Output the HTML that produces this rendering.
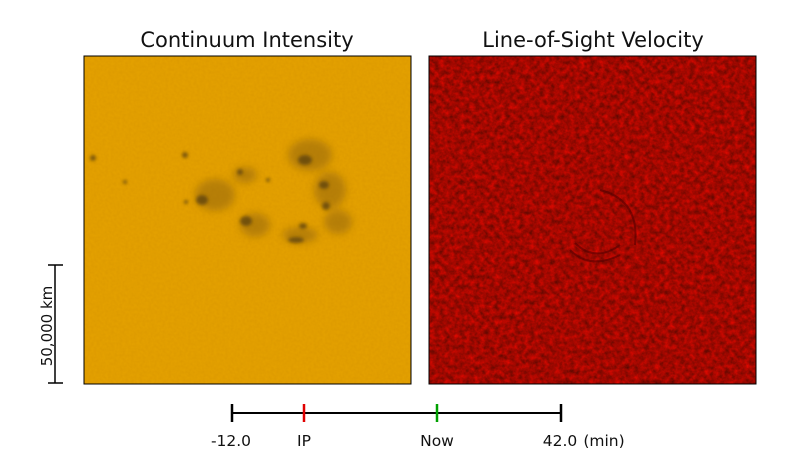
<!DOCTYPE html>
<html><head><style>
body{margin:0;background:#fff;}
svg{display:block;font-family:"DejaVu Sans","Liberation Sans",sans-serif;}
</style></head><body>
<svg width="811" height="474" viewBox="0 0 811 474">
<defs>
<filter id="ny" x="0" y="0" width="100%" height="100%" color-interpolation-filters="sRGB">
<feTurbulence type="fractalNoise" baseFrequency="0.35" numOctaves="2" seed="3" result="n"/>
<feColorMatrix in="n" type="matrix" values="0 0 0 0 0.8  0 0 0 0 0.54  0 0 0 0 0  0.4 0 0 0 -0.1" result="c"/>
<feComposite in="c" in2="SourceGraphic" operator="over"/>
</filter>
<filter id="nr" x="0" y="0" width="100%" height="100%" color-interpolation-filters="sRGB">
<feTurbulence type="fractalNoise" baseFrequency="0.2" numOctaves="3" seed="7" result="n"/>
<feColorMatrix in="n" type="matrix" values="0.6 0 0 0 0.33  0 0 0 0 0.03  0 0 0 0 0.0  0 0 0 0 1" result="c"/>
<feComposite in="c" in2="SourceGraphic" operator="in"/>
</filter>
<filter id="bl"><feGaussianBlur stdDeviation="4"/></filter>
<filter id="bs"><feGaussianBlur stdDeviation="1.5"/></filter>
</defs>
<text x="247" y="47" font-size="21" text-anchor="middle" fill="#111">Continuum Intensity</text>
<text x="593" y="47" font-size="21" text-anchor="middle" fill="#111">Line-of-Sight Velocity</text>
<rect x="84" y="56" width="327" height="328" fill="#e3a000"/>
<rect x="84" y="56" width="327" height="328" fill="#e3a000" filter="url(#ny)"/>
<g fill="#9a6a10" opacity="0.6" filter="url(#bl)">
<ellipse cx="310" cy="155" rx="22" ry="16"/>
<ellipse cx="330" cy="190" rx="16" ry="18"/>
<ellipse cx="338" cy="222" rx="14" ry="12"/>
<ellipse cx="215" cy="195" rx="20" ry="16"/>
<ellipse cx="255" cy="225" rx="15" ry="12"/>
<ellipse cx="300" cy="235" rx="18" ry="8"/>
<ellipse cx="245" cy="175" rx="12" ry="8"/>
</g>
<g fill="#5a4010" opacity="0.75" filter="url(#bs)">
<ellipse cx="305" cy="160" rx="7" ry="5"/>
<ellipse cx="324" cy="185" rx="5" ry="4"/>
<ellipse cx="326" cy="206" rx="4" ry="4"/>
<ellipse cx="202" cy="200" rx="6" ry="5"/>
<ellipse cx="246" cy="221" rx="6" ry="5"/>
<ellipse cx="303" cy="226" rx="4" ry="3"/>
<ellipse cx="296" cy="240" rx="8" ry="3"/>
<circle cx="185" cy="155" r="3"/>
<circle cx="93" cy="158" r="3"/>
<circle cx="240" cy="172" r="3"/>
<circle cx="186" cy="202" r="2"/>
<circle cx="268" cy="180" r="2"/>
<circle cx="125" cy="182" r="2"/>
</g>
<rect x="84" y="56" width="327" height="328" fill="none" stroke="#000" stroke-width="1"/>
<rect x="429" y="56" width="327" height="328" fill="#a00a00"/>
<rect x="429" y="56" width="327" height="328" fill="#a00a00" filter="url(#nr)"/>
<g fill="none" stroke="#500" stroke-width="2" opacity="0.6">
<path d="M570 250 q20 20 50 5"/><path d="M575 243 q20 20 45 2"/><path d="M600 190 q40 10 35 55"/>
</g>
<rect x="429" y="56" width="327" height="328" fill="none" stroke="#000" stroke-width="1"/>
<g stroke="#000" stroke-width="1.5">
<line x1="55" y1="265" x2="55" y2="383"/><line x1="48" y1="265" x2="63" y2="265"/><line x1="48" y1="383" x2="63" y2="383"/>
</g>
<text transform="translate(52,326) rotate(-90)" font-size="15" text-anchor="middle" fill="#111">50,000 km</text>
<g stroke-width="2.5">
<line x1="232" y1="413" x2="561" y2="413" stroke="#000" stroke-width="2"/>
<line x1="232" y1="404" x2="232" y2="422" stroke="#000"/>
<line x1="561" y1="404" x2="561" y2="422" stroke="#000"/>
<line x1="304" y1="404" x2="304" y2="422" stroke="#e00000"/>
<line x1="437" y1="404" x2="437" y2="422" stroke="#00a000"/>
</g>
<g font-size="15.5" fill="#111" text-anchor="middle">
<text x="231" y="446">-12.0</text><text x="304" y="446">IP</text><text x="437" y="446">Now</text><text x="560" y="446">42.0</text>
<text x="604" y="446">(min)</text>
</g>
</svg>
</body></html>
